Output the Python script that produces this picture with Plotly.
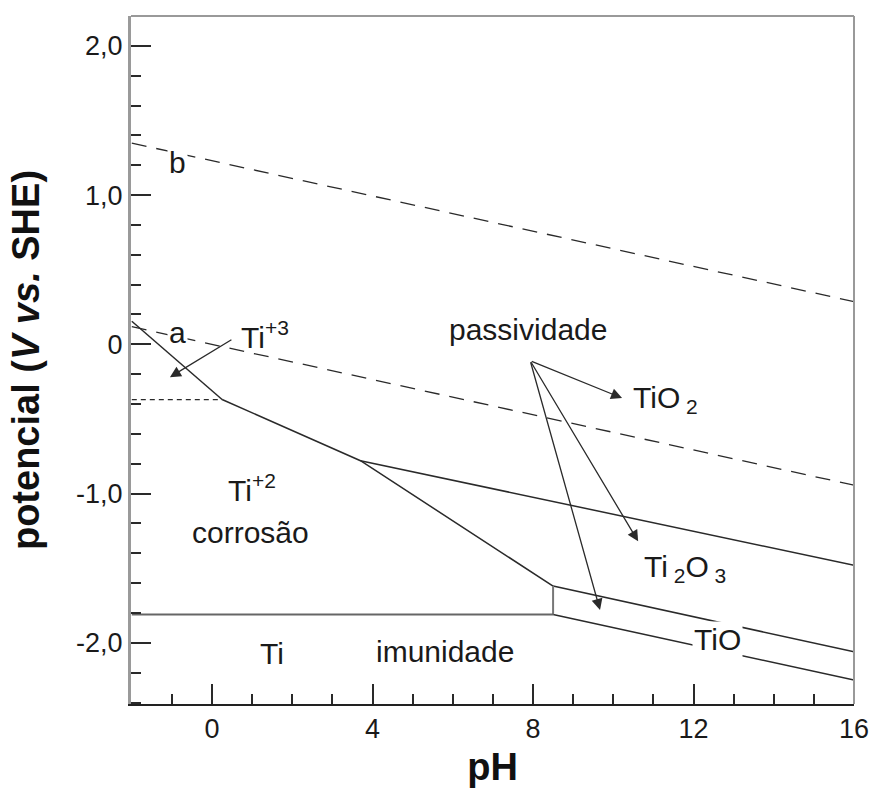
import plotly.graph_objects as go

# ---- data (pH, potential V vs SHE) ----
line_b_ph = [-2.0, 16.0]
line_b_e = [1.348, 0.286]
line_a_ph = [-2.0, 16.0]
line_a_e = [0.118, -0.944]
ti3_ti2_ph = [-2.0, 0.25]
ti3_ti2_e = [0.155, -0.37]
dotted_ph = [-2.0, 0.25]
dotted_e = [-0.37, -0.37]
ti2_oxide_ph = [0.25, 3.7, 8.5]
ti2_oxide_e = [-0.37, -0.78, -1.62]
tio2_ti2o3_ph = [3.7, 16.0]
tio2_ti2o3_e = [-0.78, -1.48]
ti2o3_tio_ph = [8.5, 16.0]
ti2o3_tio_e = [-1.62, -2.06]
tio_ti_ph = [8.5, 16.0]
tio_ti_e = [-1.81, -2.25]
vert_ph = [8.5, 8.5]
vert_e = [-1.62, -1.81]
ti_ti2_ph = [-2.0, 8.5]
ti_ti2_e = [-1.81, -1.81]

x_ticks = [0, 4, 8, 12, 16]
y_ticks = [-2, -1, 0, 1, 2]
y_ticktext = ["-2,0", "-1,0", "0", "1,0", "2,0"]

FONT = "Liberation Sans, Arial, sans-serif"
DARK = "#2a2a2a"

fig = go.Figure()

def add_line(x, y, color=DARK, width=1.5, dash="solid"):
    fig.add_trace(go.Scatter(x=x, y=y, mode="lines", hoverinfo="skip",
                             line=dict(color=color, width=width, dash=dash),
                             showlegend=False))

add_line(line_b_ph, line_b_e, dash="15px,10px", width=1.3)
add_line(line_a_ph, line_a_e, dash="15px,10px", width=1.3)
add_line(ti3_ti2_ph, ti3_ti2_e)
add_line(dotted_ph, dotted_e, dash="5px,4px", width=1.3)
add_line(ti2_oxide_ph, ti2_oxide_e)
add_line(tio2_ti2o3_ph, tio2_ti2o3_e)
add_line(ti2o3_tio_ph, ti2o3_tio_e)
add_line(tio_ti_ph, tio_ti_e)
add_line(vert_ph, vert_e, color="#777777", width=2)
add_line(ti_ti2_ph, ti_ti2_e, color="#666666", width=2)

LS = 30

def label(x, y, text, xanchor="center", bg=None, size=LS):
    fig.add_annotation(x=x, y=y, xref="x", yref="y", text=text, showarrow=False,
                       xanchor=xanchor, yanchor="middle",
                       font=dict(family=FONT, size=size, color="#1a1a1a"),
                       bgcolor=bg)

label(-0.85, 1.22, "b", bg="white")
label(-0.85, 0.08, "a", bg="white")
label(0.66, 0.06, "Ti<sup>+3</sup>", xanchor="left")
label(0.35, -0.96, "Ti<sup>+2</sup>", xanchor="left")
label(0.95, -1.26, "corrosão")
label(1.5, -2.07, "Ti")
label(5.8, -2.06, "imunidade")
label(7.88, 0.097, "passividade")
label(10.45, -0.37, "TiO<sub> 2</sub>", xanchor="left")
label(10.72, -1.50, "Ti<sub> 2</sub>O<sub> 3</sub>", xanchor="left")
label(12.59, -1.98, "TiO", bg="white")

def arrow(x0, y0, x1, y1):
    fig.add_annotation(x=x1, y=y1, ax=x0, ay=y0, xref="x", yref="y",
                       axref="x", ayref="y", text="", showarrow=True,
                       arrowhead=2, arrowsize=1.7, arrowwidth=1.3,
                       arrowcolor=DARK)

arrow(0.52, 0.037, -1.05, -0.22)
arrow(7.93, -0.11, 10.22, -0.36)
arrow(7.93, -0.11, 10.62, -1.32)
arrow(7.93, -0.11, 9.67, -1.78)

# gray top / right frame
fig.add_shape(type="line", xref="paper", yref="paper", x0=0, x1=1, y0=1, y1=1,
              line=dict(color="#999999", width=2))
fig.add_shape(type="line", xref="paper", yref="paper", x0=1, x1=1, y0=0, y1=1,
              line=dict(color="#999999", width=2))

fig.update_layout(
    width=872, height=789,
    margin=dict(l=131, r=18, t=16, b=85),
    paper_bgcolor="white", plot_bgcolor="white",
    font=dict(family=FONT, color="#1a1a1a"),
    xaxis=dict(range=[-2.02, 16], tickmode="array", tickvals=x_ticks,
               automargin=False,
               ticks="inside", ticklen=20, tickwidth=2, tickcolor=DARK,
               showline=True, linecolor="#222222", linewidth=2,
               showgrid=False, zeroline=False,
               tickfont=dict(family=FONT, size=27, color="#1a1a1a"),
               minor=dict(tick0=0, dtick=1, ticks="inside", ticklen=10,
                          tickwidth=1.5, tickcolor=DARK, showgrid=False),
               title=dict(text="<b>pH</b>", font=dict(family=FONT, size=38, color="#111"),
                          standoff=10)),
    yaxis=dict(range=[-2.41, 2.2], tickmode="array", tickvals=y_ticks,
               ticktext=y_ticktext, automargin=False,
               ticks="inside", ticklen=20, tickwidth=2, tickcolor=DARK,
               showline=True, linecolor="#9a9a9a", linewidth=3,
               showgrid=False, zeroline=False,
               tickfont=dict(family=FONT, size=27, color="#1a1a1a"),
               minor=dict(tick0=0, dtick=0.2, ticks="inside", ticklen=10,
                          tickwidth=1.5, tickcolor=DARK, showgrid=False),
               title=dict(text="<b>potencial (<i>V vs.</i> SHE)</b>",
                          font=dict(family=FONT, size=38, color="#111"),
                          standoff=25)),
)

fig.write_html("out.html")
